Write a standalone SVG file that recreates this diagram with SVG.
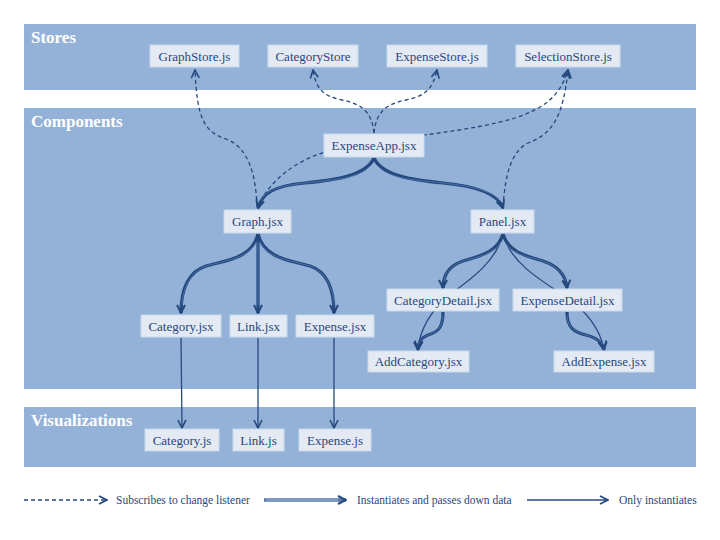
<svg xmlns="http://www.w3.org/2000/svg" width="720" height="540" viewBox="0 0 720 540">
<style>
.band{fill:#94b2d7}
.title{font-family:"Liberation Serif","Times New Roman",serif;font-weight:bold;font-size:17px;fill:#ffffff}
.box{fill:#e3eaf4;stroke:#c9d8ec;stroke-width:1}
.lbl{font-family:"Liberation Serif","Times New Roman",serif;font-size:13px;fill:#2a467a;text-anchor:middle}
.leg{font-family:"Liberation Serif","Times New Roman",serif;font-size:11.5px;fill:#2a467a}
.dash{fill:none;stroke:#25497f;stroke-width:1.3;stroke-dasharray:4 3}
.dblo{fill:none;stroke:#24497f;stroke-width:3.2}
.dbli{fill:none;stroke:#5377ad;stroke-width:0.8}
.thin{fill:none;stroke:#25497f;stroke-width:1.3}
.lego{fill:none;stroke:#5676a8;stroke-width:3.4}
.legi{fill:none;stroke:#a9bedb;stroke-width:1}
</style>
<defs>
<marker id="ah" viewBox="0 0 10 10" refX="9" refY="5" markerWidth="10" markerHeight="10" markerUnits="userSpaceOnUse" orient="auto">
<path d="M1,1 L9,5 L1,9" fill="none" stroke="#24497f" stroke-width="2"/>
</marker>
<marker id="ahs" viewBox="0 0 10 10" refX="9" refY="5" markerWidth="10" markerHeight="10" markerUnits="userSpaceOnUse" orient="auto">
<path d="M1,1 L9,5 L1,9" fill="none" stroke="#24497f" stroke-width="1.6"/>
</marker>
</defs>

<rect class="band" x="24" y="24" width="672" height="66"/>
<rect class="band" x="24" y="108" width="672" height="281"/>
<rect class="band" x="24" y="407" width="672" height="60"/>
<text class="title" x="31" y="43">Stores</text>
<text class="title" x="31" y="127">Components</text>
<text class="title" x="31" y="426">Visualizations</text>

<g id="connectors">
<!-- subscribes (dashed) -->
<path class="dash" marker-end="url(#ahs)" d="M257,207 C256,178 250,148 226,139 C204,132 197,118 195,70"/>
<path class="dash" marker-end="url(#ahs)" d="M257,207 C275,172 305,157 335,149 C400,136 470,132 515,118 C545,108 560,96 568,70"/>
<path class="dash" marker-end="url(#ahs)" d="M503,207 C505,178 510,152 528,143 C552,134 563,118 568,70"/>
<path class="dash" marker-end="url(#ahs)" d="M374,133 C372,112 362,104 342,100 C322,96 316,88 313,70"/>
<path class="dash" marker-end="url(#ahs)" d="M374,133 C376,112 386,104 406,100 C426,96 433,88 437,70"/>

<!-- only instantiates (thin) -->
<path class="thin" marker-end="url(#ahs)" d="M503,234 C496,262 470,280 448,296 C430,312 420,330 418,349"/>
<path class="thin" marker-end="url(#ahs)" d="M503,234 C510,262 540,280 565,296 C588,312 600,330 604,349"/>
<path class="thin" marker-end="url(#ahs)" d="M181,338 L182,428"/>
<path class="thin" marker-end="url(#ahs)" d="M258,338 L258,428"/>
<path class="thin" marker-end="url(#ahs)" d="M334,338 L334,428"/>

<!-- instantiates and passes down data (double) -->
<path class="dblo" marker-end="url(#ah)" d="M374,158 C366,176 335,180 305,183 C272,186 262,194 258,208"/>
<path class="dbli" d="M370,166 C360,178 335,180 305,183 C275,186 265,192 261,200"/>
<path class="dblo" marker-end="url(#ah)" d="M374,158 C382,176 413,180 443,183 C476,186 498,194 503,208"/>
<path class="dbli" d="M378,166 C388,178 413,180 443,183 C473,186 493,192 499,200"/>

<path class="dblo" marker-end="url(#ah)" d="M258,234 C252,258 228,260 206,266 C188,272 181,290 181,313"/>
<path class="dbli" d="M256,242 C248,258 228,260 206,266 C190,272 183,288 182,305"/>
<path class="dblo" marker-end="url(#ah)" d="M258,234 L258,313"/>
<path class="dbli" d="M258,242 L258,305"/>
<path class="dblo" marker-end="url(#ah)" d="M258,234 C264,258 288,260 310,266 C328,272 334,290 334,313"/>
<path class="dbli" d="M260,242 C268,258 288,260 310,266 C326,272 333,288 334,305"/>

<path class="dblo" marker-end="url(#ah)" d="M503,234 C498,252 480,256 463,261 C448,266 443,276 443,288"/>
<path class="dbli" d="M501,242 C494,254 480,256 463,261 C450,266 445,274 444,281"/>
<path class="dblo" marker-end="url(#ah)" d="M503,234 C508,252 526,256 543,261 C558,266 566,276 567,288"/>
<path class="dbli" d="M505,242 C512,254 526,256 543,261 C556,266 564,274 566,281"/>

<path class="dblo" marker-end="url(#ah)" d="M443,312 C443,328 438,332 428,335 C420,338 418,344 418,350"/>
<path class="dbli" d="M443,316 C442,328 437,332 428,335 C422,338 419,342 418,344"/>
<path class="dblo" marker-end="url(#ah)" d="M567,312 C567,328 574,332 586,335 C598,338 603,344 604,350"/>
<path class="dbli" d="M567,316 C568,328 575,332 586,335 C596,338 601,342 603,344"/>
</g>

<g id="n-graphstore"><rect class="box" x="150" y="45" width="89" height="22"/><text class="lbl" x="194.5" y="60.5">GraphStore.js</text></g>
<g id="n-categorystore"><rect class="box" x="268" y="45" width="90" height="22"/><text class="lbl" x="313" y="60.5">CategoryStore</text></g>
<g id="n-expensestore"><rect class="box" x="387" y="45" width="100" height="22"/><text class="lbl" x="437" y="60.5">ExpenseStore.js</text></g>
<g id="n-selectionstore"><rect class="box" x="516" y="45" width="104" height="22"/><text class="lbl" x="568" y="60.5">SelectionStore.js</text></g>

<g id="n-expenseapp"><rect class="box" x="324" y="134" width="100" height="23"/><text class="lbl" x="374" y="150">ExpenseApp.jsx</text></g>
<g id="n-graph"><rect class="box" x="224" y="210" width="67" height="23"/><text class="lbl" x="257.5" y="226">Graph.jsx</text></g>
<g id="n-panel"><rect class="box" x="471" y="210" width="63" height="23"/><text class="lbl" x="502.5" y="226">Panel.jsx</text></g>
<g id="n-categorydetail"><rect class="box" x="387" y="289" width="112" height="22"/><text class="lbl" x="443" y="304.5">CategoryDetail.jsx</text></g>
<g id="n-expensedetail"><rect class="box" x="513" y="289" width="109" height="22"/><text class="lbl" x="567.5" y="304.5">ExpenseDetail.jsx</text></g>
<g id="n-addcategory"><rect class="box" x="368" y="351" width="101" height="21"/><text class="lbl" x="418.5" y="366">AddCategory.jsx</text></g>
<g id="n-addexpense"><rect class="box" x="554" y="351" width="100" height="21"/><text class="lbl" x="604" y="366">AddExpense.jsx</text></g>
<g id="n-categoryjsx"><rect class="box" x="141" y="315" width="80" height="22"/><text class="lbl" x="181" y="330.5">Category.jsx</text></g>
<g id="n-linkjsx"><rect class="box" x="230" y="315" width="57" height="22"/><text class="lbl" x="258.5" y="330.5">Link.jsx</text></g>
<g id="n-expensejsx"><rect class="box" x="296" y="315" width="78" height="22"/><text class="lbl" x="335" y="330.5">Expense.jsx</text></g>
<g id="n-categoryjs"><rect class="box" x="145" y="429" width="74" height="22"/><text class="lbl" x="182" y="444.5">Category.js</text></g>
<g id="n-linkjs"><rect class="box" x="233" y="429" width="51" height="22"/><text class="lbl" x="258.5" y="444.5">Link.js</text></g>
<g id="n-expensejs"><rect class="box" x="299" y="429" width="72" height="22"/><text class="lbl" x="335" y="444.5">Expense.js</text></g>

<g id="legend">
<path class="dash" marker-end="url(#ahs)" d="M24,500 L107,500"/>
<text class="leg" x="116" y="504">Subscribes to change listener</text>
<path class="lego" marker-end="url(#ah)" d="M264,500 L346,500"/>
<path class="legi" d="M266,500 L338,500"/>
<text class="leg" x="357" y="504">Instantiates and passes down data</text>
<path class="thin" marker-end="url(#ahs)" d="M527,500 L608,500"/>
<text class="leg" x="619" y="504">Only instantiates</text>
</g>
</svg>
